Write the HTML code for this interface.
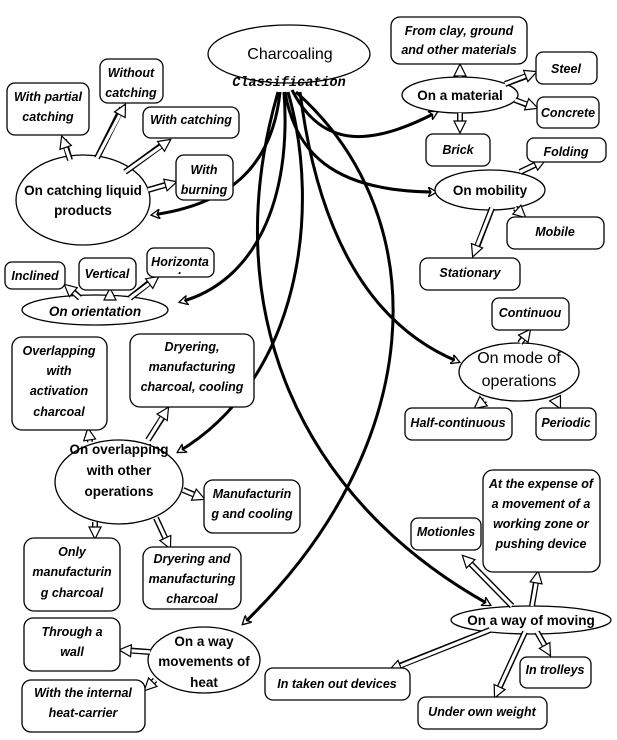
<!DOCTYPE html>
<html><head><meta charset="utf-8"><style>
html,body{margin:0;padding:0;background:#fff;}
svg{display:block;}
.b{fill:#fff;stroke:#000;stroke-width:1.3;}
.t{font-family:"Liberation Sans",sans-serif;font-weight:bold;font-style:italic;font-size:12.5px;fill:#000;text-anchor:middle;}
.e{font-family:"Liberation Sans",sans-serif;font-weight:bold;font-size:13.5px;fill:#000;text-anchor:middle;}
</style></head><body>
<svg width="617" height="740" viewBox="0 0 617 740" xmlns="http://www.w3.org/2000/svg">
<defs>
<marker id="ah" markerWidth="10" markerHeight="10" refX="8" refY="5" orient="auto" markerUnits="userSpaceOnUse">
<path d="M0,0 L9,5 L0,10 L3,5 Z" fill="#fff" stroke="#000" stroke-width="1.3"/>
</marker>
<marker id="ho" markerWidth="14" markerHeight="14" refX="12" refY="7" orient="auto" markerUnits="userSpaceOnUse">
<path d="M1,1 L13,7 L1,13 L1,10 L1,4 Z" fill="#fff" stroke="#000" stroke-width="1.2"/>
</marker>
</defs>

<g style="fill:none;stroke:#000;stroke-width:3">
<path d="M280,92 C272,170 225,205 152,215" marker-end="url(#ah)"/>
<path d="M284,92 C292,200 255,282 180,302" marker-end="url(#ah)"/>
<path d="M288,92 C322,210 300,380 178,452" marker-end="url(#ah)"/>
<path d="M296,92 C440,220 425,450 243,624" marker-end="url(#ah)"/>
<path d="M278,92 C215,310 300,500 490,605" marker-end="url(#ah)"/>
<path d="M300,92 C320,250 380,330 459,362" marker-end="url(#ah)"/>
<path d="M292,90 C320,145 365,150 437,112" marker-end="url(#ah)"/>
<path d="M285,92 C295,150 330,192 436,192" marker-end="url(#ah)"/>
</g>

<ellipse class="b" cx="289" cy="54" rx="81" ry="29"/>
<ellipse class="b" cx="83" cy="200" rx="67" ry="45"/>
<ellipse class="b" cx="95" cy="310" rx="73" ry="15"/>
<ellipse class="b" cx="460" cy="95" rx="58" ry="18"/>
<ellipse class="b" cx="490" cy="190" rx="55" ry="20"/>
<ellipse class="b" cx="519" cy="372" rx="60" ry="29"/>
<ellipse class="b" cx="119" cy="482" rx="64" ry="42"/>
<ellipse class="b" cx="204" cy="660" rx="56" ry="33"/>
<ellipse class="b" cx="531" cy="620" rx="80" ry="14"/>

<g fill="none">
<g stroke="#000" stroke-width="6">
<path d="M70,160 L64,140"/><path d="M97,158 L122,108"/><path d="M125,172 L166,142"/><path d="M148,190 L172,183"/>
<path d="M80,298 L68,287"/><path d="M110,297 L110,292"/><path d="M130,298 L154,279"/>
<path d="M460,77 L460,68"/><path d="M460,113 L460,128"/><path d="M505,84 L532,74"/><path d="M515,100 L533,107"/>
<path d="M520,172 L541,162"/><path d="M515,208 L522,214"/><path d="M492,208 L475,252"/>
<path d="M520,343 L527,333"/><path d="M485,400 L478,406"/><path d="M555,398 L558,405"/>
<path d="M90,442 L89,433"/><path d="M148,440 L166,412"/><path d="M183,490 L200,497"/><path d="M156,518 L168,544"/><path d="M95,522 L95,534"/>
<path d="M150,652 L124,650"/><path d="M155,680 L148,687"/>
<path d="M512,606 L466,559"/><path d="M532,606 L537,576"/><path d="M490,630 L394,668"/><path d="M525,632 L497,693"/><path d="M537,632 L548,651"/>
</g>
<g stroke="#fff" stroke-width="3.2" marker-end="url(#ho)">
<path d="M70,160 L62,137"/><path d="M97,158 L125,105"/><path d="M125,172 L170,140"/><path d="M148,190 L176,182"/>
<path d="M80,298 L65,285"/><path d="M110,297 L110,289"/><path d="M130,298 L158,277"/>
<path d="M460,77 L460,65"/><path d="M460,113 L460,132"/><path d="M505,84 L536,72"/><path d="M515,100 L537,108"/>
<path d="M520,172 L545,160"/><path d="M515,208 L525,217"/><path d="M492,208 L473,256"/>
<path d="M520,343 L530,330"/><path d="M485,400 L475,408"/><path d="M555,398 L560,408"/>
<path d="M90,442 L88,429"/><path d="M148,440 L168,408"/><path d="M183,490 L204,499"/><path d="M156,518 L170,548"/><path d="M95,522 L95,538"/>
<path d="M150,652 L120,650"/><path d="M155,680 L145,690"/>
<path d="M512,606 L463,556"/><path d="M532,606 L538,572"/><path d="M490,630 L390,670"/><path d="M525,632 L495,697"/><path d="M537,632 L550,655"/>
</g>
</g>

<rect class="b" x="7" y="83" width="82" height="52" rx="8"/>
<rect class="b" x="100" y="59" width="63" height="44" rx="8"/>
<rect class="b" x="143" y="107" width="96" height="31" rx="8"/>
<rect class="b" x="176" y="155" width="57" height="45" rx="8"/>
<rect class="b" x="5" y="262" width="60" height="27" rx="7"/>
<rect class="b" x="79" y="258" width="57" height="32" rx="7"/>
<rect class="b" x="147" y="248" width="67" height="29" rx="7"/>
<rect class="b" x="391" y="17" width="136" height="47" rx="9"/>
<rect class="b" x="536" y="52" width="61" height="32" rx="7"/>
<rect class="b" x="537" y="97" width="62" height="31" rx="7"/>
<rect class="b" x="426" y="134" width="64" height="32" rx="7"/>
<rect class="b" x="527" y="138" width="79" height="24" rx="7"/>
<rect class="b" x="507" y="217" width="97" height="32" rx="8"/>
<rect class="b" x="420" y="258" width="100" height="32" rx="8"/>
<rect class="b" x="492" y="298" width="77" height="32" rx="7"/>
<rect class="b" x="12" y="337" width="95" height="93" rx="10"/>
<rect class="b" x="130" y="334" width="124" height="73" rx="10"/>
<rect class="b" x="405" y="408" width="107" height="32" rx="7"/>
<rect class="b" x="536" y="408" width="60" height="32" rx="7"/>
<rect class="b" x="204" y="480" width="96" height="53" rx="9"/>
<rect class="b" x="24" y="538" width="96" height="73" rx="10"/>
<rect class="b" x="143" y="547" width="98" height="62" rx="10"/>
<rect class="b" x="411" y="518" width="70" height="32" rx="7"/>
<rect class="b" x="483" y="470" width="117" height="102" rx="10"/>
<rect class="b" x="24" y="618" width="96" height="53" rx="9"/>
<rect class="b" x="22" y="680" width="123" height="52" rx="9"/>
<rect class="b" x="265" y="668" width="145" height="32" rx="8"/>
<rect class="b" x="520" y="657" width="71" height="31" rx="7"/>
<rect class="b" x="418" y="697" width="129" height="32" rx="8"/>

<text x="290" y="59" style="font-family:'Liberation Sans',sans-serif;font-size:16px;text-anchor:middle">Charcoaling</text>
<text x="289" y="86" style="font-family:'Liberation Mono',monospace;font-size:13.5px;font-weight:bold;font-style:italic;text-anchor:middle">Classification</text>
<text class="e" x="83" y="195">On catching liquid</text>
<text class="e" x="83" y="215">products</text>
<text class="e" x="95" y="316" style="font-style:italic">On orientation</text>
<text class="e" x="460" y="100">On a material</text>
<text class="e" x="490" y="195">On mobility</text>
<text class="e" x="519" y="363" style="font-size:16px;font-weight:normal">On mode of</text>
<text class="e" x="519" y="386" style="font-size:16px;font-weight:normal">operations</text>
<text class="e" x="119" y="454">On overlapping</text>
<text class="e" x="119" y="475">with other</text>
<text class="e" x="119" y="496">operations</text>
<text class="e" x="204" y="646">On a way</text>
<text class="e" x="204" y="666">movements of</text>
<text class="e" x="204" y="687">heat</text>
<text class="e" x="531" y="625">On a way of moving</text>

<text class="t" x="48" y="101">With partial</text><text class="t" x="48" y="121">catching</text>
<text class="t" x="131" y="77">Without</text><text class="t" x="131" y="97">catching</text>
<text class="t" x="191" y="124">With catching</text>
<text class="t" x="204" y="174">With</text><text class="t" x="204" y="194">burning</text>
<text class="t" x="35" y="280">Inclined</text>
<text class="t" x="107" y="278">Vertical</text>
<text class="t" x="180" y="266">Horizonta</text><text class="t" x="180" y="274">.</text>
<text class="t" x="459" y="35">From clay, ground</text><text class="t" x="459" y="54">and other materials</text>
<text class="t" x="566" y="73">Steel</text>
<text class="t" x="568" y="117">Concrete</text>
<text class="t" x="458" y="154">Brick</text>
<text class="t" x="566" y="156">Folding</text>
<text class="t" x="555" y="236">Mobile</text>
<text class="t" x="470" y="277">Stationary</text>
<text class="t" x="530" y="317">Continuou</text>
<text class="t" x="59" y="355">Overlapping</text><text class="t" x="59" y="375">with</text><text class="t" x="59" y="395">activation</text><text class="t" x="59" y="416">charcoal</text>
<text class="t" x="192" y="351">Dryering,</text><text class="t" x="192" y="371">manufacturing</text><text class="t" x="192" y="391">charcoal, cooling</text>
<text class="t" x="458" y="427">Half-continuous</text>
<text class="t" x="566" y="427">Periodic</text>
<text class="t" x="252" y="498">Manufacturin</text><text class="t" x="252" y="518">g and cooling</text>
<text class="t" x="72" y="556">Only</text><text class="t" x="72" y="576">manufacturin</text><text class="t" x="72" y="597">g charcoal</text>
<text class="t" x="192" y="563">Dryering and</text><text class="t" x="192" y="583">manufacturing</text><text class="t" x="192" y="603">charcoal</text>
<text class="t" x="446" y="536">Motionles</text>
<text class="t" x="541" y="488">At the expense of</text><text class="t" x="541" y="508">a movement of a</text><text class="t" x="541" y="528">working zone or</text><text class="t" x="541" y="548">pushing device</text>
<text class="t" x="72" y="636">Through a</text><text class="t" x="72" y="656">wall</text>
<text class="t" x="83" y="697">With the internal</text><text class="t" x="83" y="717">heat-carrier</text>
<text class="t" x="337" y="688">In taken out devices</text>
<text class="t" x="555" y="674">In trolleys</text>
<text class="t" x="482" y="716">Under own weight</text>
</svg>
</body></html>
